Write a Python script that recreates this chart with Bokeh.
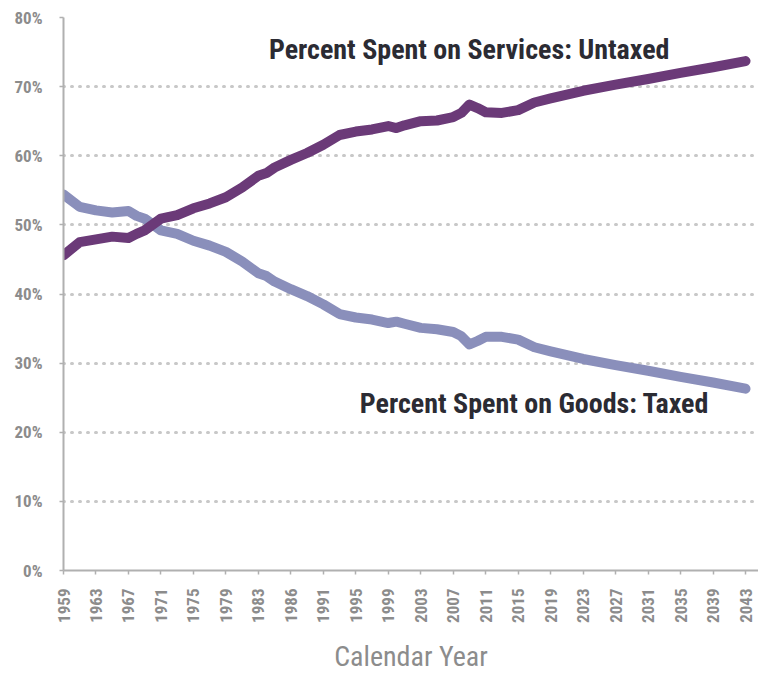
from bokeh.plotting import figure
from bokeh.models import Range1d, FixedTicker, Label
from bokeh.embed import file_html
from bokeh.resources import INLINE

years = [1959, 1961, 1963, 1965, 1967, 1968, 1969, 1971, 1973, 1975, 1977, 1979, 1981,
         1983, 1984, 1985, 1987, 1989, 1991, 1993, 1995, 1997, 1999, 2000, 2001, 2003,
         2005, 2007, 2008, 2009, 2010, 2011, 2013, 2015, 2017, 2019, 2023, 2027, 2031,
         2035, 2039, 2043]
services = [45.6, 47.5, 47.9, 48.3, 48.1, 48.7, 49.2, 50.9, 51.4, 52.4, 53.1, 54.0, 55.4,
            57.1, 57.5, 58.3, 59.4, 60.4, 61.6, 63.0, 63.5, 63.8, 64.3, 64.0, 64.4, 65.0,
            65.1, 65.6, 66.2, 67.4, 66.9, 66.3, 66.2, 66.6, 67.7, 68.3, 69.4, 70.3, 71.1,
            72.0, 72.8, 73.7]
goods = [54.4, 52.6, 52.1, 51.8, 52.0, 51.3, 50.9, 49.2, 48.7, 47.7, 47.0, 46.1, 44.7,
         43.0, 42.6, 41.8, 40.7, 39.7, 38.5, 37.1, 36.6, 36.3, 35.8, 36.0, 35.7, 35.1,
         34.9, 34.5, 33.9, 32.7, 33.2, 33.8, 33.8, 33.4, 32.3, 31.7, 30.6, 29.7, 28.9,
         28.0, 27.2, 26.3]

tick_years = [1959, 1963, 1967, 1971, 1975, 1979, 1983, 1987, 1991, 1995, 1999, 2003,
              2007, 2011, 2015, 2019, 2023, 2027, 2031, 2035, 2039, 2043]
tick_labels = ["1959", "1963", "1967", "1971", "1975", "1979", "1983", "1986", "1991",
               "1995", "1999", "2003", "2007", "2011", "2015", "2019", "2023", "2027",
               "2031", "2035", "2039", "2043"]
y_ticks = [0, 10, 20, 30, 40, 50, 60, 70, 80]

FONT = "'Roboto Condensed', 'DejaVu Sans Condensed', sans-serif"
GRAY = "#8c8c8c"

p = figure(width=758, height=675, output_backend="svg", toolbar_location=None,
           x_range=Range1d(1959, 2044.6), y_range=Range1d(0, 80),
           min_border_left=63, min_border_right=0, min_border_top=17, min_border_bottom=102)
p.outline_line_color = None
p.background_fill_color = "white"

p.line(years, goods, line_color="#8a8fbb", line_width=10, line_join="round", line_cap="round")
p.line(years, services, line_color="#6b3a78", line_width=10, line_join="round", line_cap="round")

p.xaxis.ticker = FixedTicker(ticks=tick_years)
p.xaxis.major_label_overrides = {y: l for y, l in zip(tick_years, tick_labels)}
p.xaxis.major_label_orientation = 3.14159265 / 2
p.xaxis.axis_label = "Calendar Year"
p.xaxis.axis_label_text_font = FONT
p.xaxis.axis_label_text_font_size = "28px"
p.xaxis.axis_label_text_font_style = "normal"
p.xaxis.axis_label_text_color = GRAY
p.xaxis.axis_label_standoff = 14

p.yaxis.ticker = FixedTicker(ticks=y_ticks)
p.yaxis.major_label_overrides = {v: f"{v}%" for v in y_ticks}

for ax in (p.xaxis, p.yaxis):
    ax.axis_line_color = "#b0b0b0"
    ax.axis_line_width = 2
    ax.major_tick_line_color = "#b0b0b0"
    ax.major_tick_line_width = 1.5
    ax.major_tick_in = 0
    ax.major_tick_out = 4
    ax.minor_tick_line_color = None
    ax.major_label_text_font = FONT
    ax.major_label_text_font_style = "bold"
    ax.major_label_text_font_size = "17px"
    ax.major_label_text_color = GRAY
p.xaxis.major_label_standoff = 14
p.yaxis.major_label_standoff = 17

p.xgrid.grid_line_color = None
p.ygrid.grid_line_color = "#c8c8c8"
p.ygrid.grid_line_width = 3
p.ygrid.grid_line_dash = "1 7"
p.ygrid.grid_line_cap = "round"

p.add_layout(Label(x=1984.3, y=75.3, text="Percent Spent on Services: Untaxed",
                   text_font=FONT, text_font_style="bold", text_font_size="28px",
                   text_color="#2b2b33", text_baseline="middle"))
p.add_layout(Label(x=1995.5, y=24.2, text="Percent Spent on Goods: Taxed",
                   text_font=FONT, text_font_style="bold", text_font_size="28px",
                   text_color="#2b2b33", text_baseline="middle"))

open("out.html", "w").write(file_html(p, INLINE))
